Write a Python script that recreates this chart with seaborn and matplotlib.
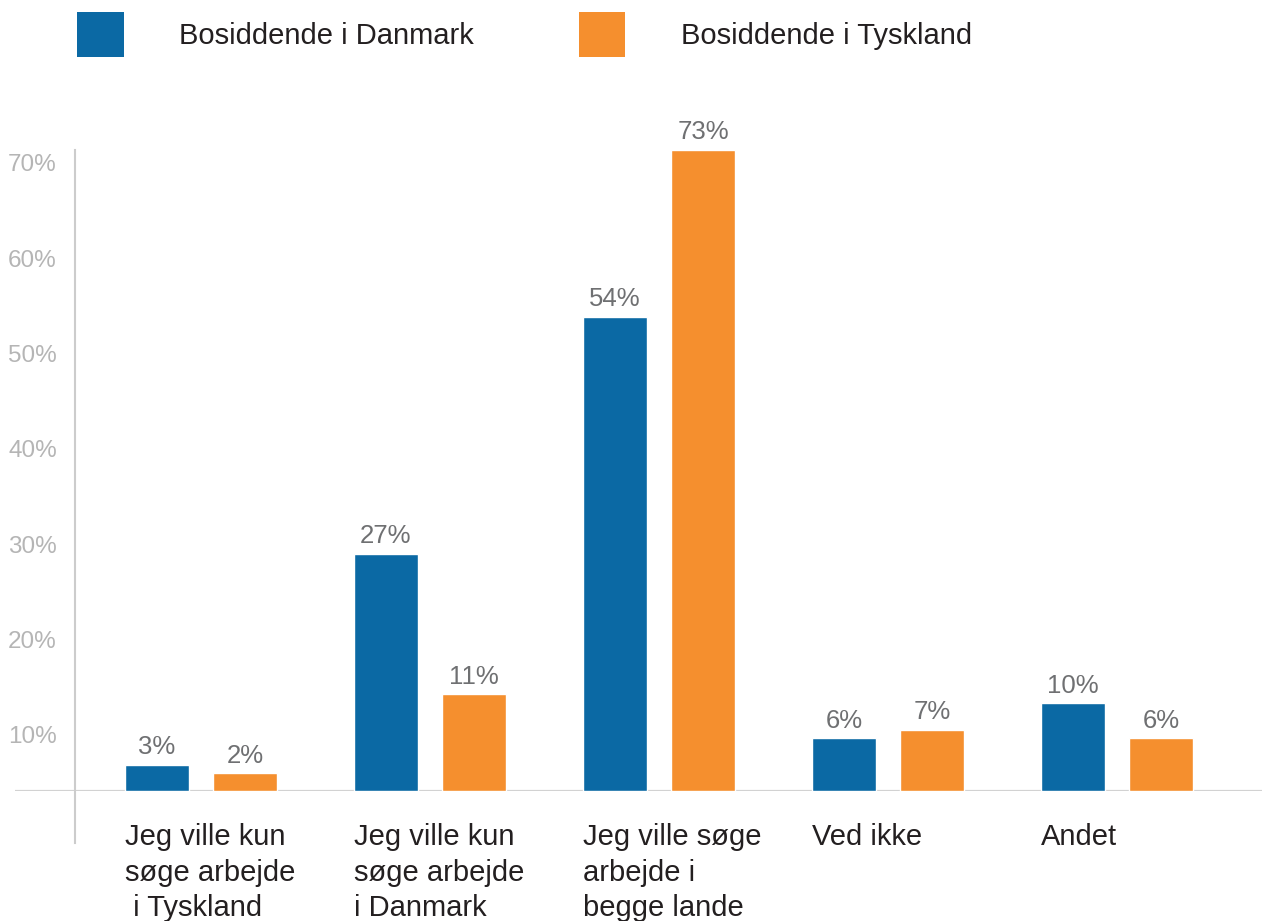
import pandas as pd
import matplotlib.pyplot as plt
import seaborn as sns
from matplotlib.patches import Patch

# data
kategorier = [
    "Jeg ville kun\nsøge arbejde\n i Tyskland",
    "Jeg ville kun\nsøge arbejde\ni Danmark",
    "Jeg ville søge\narbejde i\nbegge lande",
    "Ved ikke",
    "Andet",
]
grupper = ["Bosiddende i Danmark", "Bosiddende i Tyskland"]
danmark = [3, 27, 54, 6, 10]
tyskland = [2, 11, 73, 7, 6]
y_ticks = [10, 20, 30, 40, 50, 60, 70]

farver = ["#0b69a4", "#f58f2e"]

sns.set_style("white")
plt.rcParams["font.family"] = ["Liberation Sans", "DejaVu Sans"]

rows = []
for i, kat in enumerate(kategorier):
    rows.append({"kategori": kat, "gruppe": grupper[0], "andel": danmark[i]})
    rows.append({"kategori": kat, "gruppe": grupper[1], "andel": tyskland[i]})
df = pd.DataFrame(rows)

W, H = 1262, 921
fig = plt.figure(figsize=(W / 100, H / 100), dpi=100)

# main axes with the bars
ax = fig.add_axes([15 / W, (H - 791) / H, (W - 15) / W, 691 / H])
sns.barplot(data=df, x="kategori", y="andel", hue="gruppe", order=kategorier,
            hue_order=grupper, palette=farver, width=0.77, gap=0.27,
            saturation=1, legend=False, ax=ax)
ax.set_xlim(-0.812, 4.633)
ax.set_ylim(0, 78.7)
for s in ax.spines.values():
    s.set_visible(False)
ax.set_xticks([])
ax.set_yticks([])
ax.set_xlabel("")
ax.set_ylabel("")
ax.axhline(0, color="#d2d2d2", lw=1.6, zorder=0)

# value labels above the bars
for cont, vals in zip(ax.containers, [danmark, tyskland]):
    ax.bar_label(cont, labels=[f"{v}%" for v in vals], padding=4,
                 fontsize=18.5, color="#6f7072")

# category labels, left aligned under the first bar of each group
for i, kat in enumerate(kategorier):
    ax.text(i - 0.332, -3.6, kat, ha="left", va="top", fontsize=21,
            color="#231f20", linespacing=1.36, clip_on=False)

# separate thin axes that carries the vertical line and percentage labels
ax_y = fig.add_axes([75 / W, (H - 843) / H, 0.01, 693 / H])
ax_y.set_facecolor("none")
ax_y.set_ylim(-1.33, 71.36)
ax_y.set_xticks([])
ax_y.set_yticks(y_ticks)
ax_y.set_yticklabels([f"{t}%" for t in y_ticks], fontsize=17.5, color="#b5b5b5")
ax_y.tick_params(axis="y", length=0, pad=13)
for name in ["top", "right", "bottom"]:
    ax_y.spines[name].set_visible(False)
ax_y.spines["left"].set_color("#cccccc")
ax_y.spines["left"].set_linewidth(1.5)

# legend at the top
handles = [Patch(facecolor=c, edgecolor="none") for c in farver]
fig.legend(handles, grupper, loc="upper left", bbox_to_anchor=(77 / W, 1 - 12 / H),
           ncol=2, frameon=False, fontsize=21, borderpad=0, borderaxespad=0,
           handlelength=1.6, handleheight=2.0, handletextpad=1.9,
           columnspacing=3.6, labelcolor="#231f20")

fig.savefig("out.png", dpi=100)
